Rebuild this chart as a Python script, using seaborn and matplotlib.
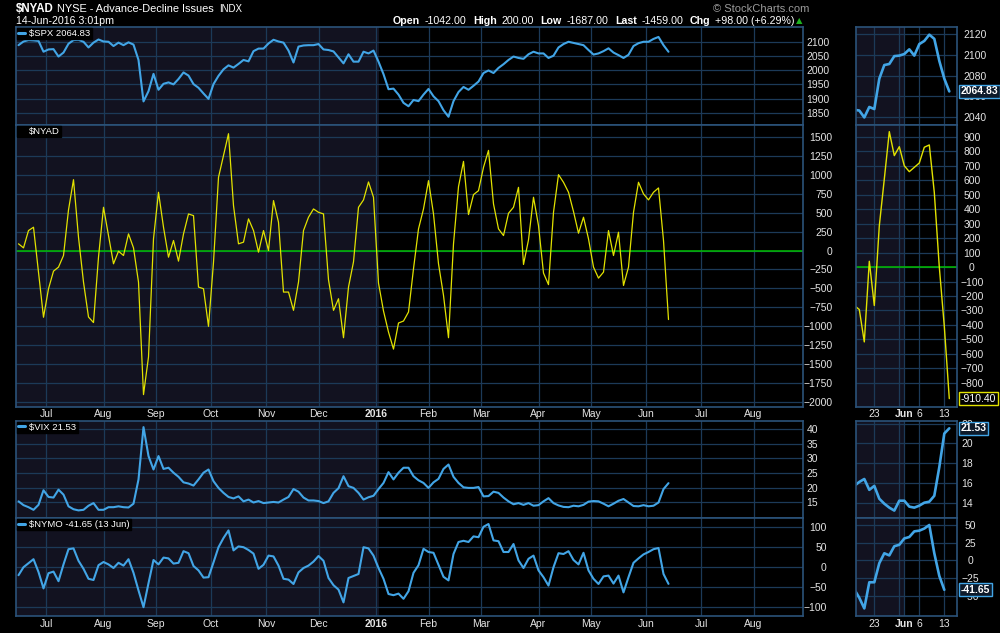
import numpy as np
import pandas as pd
import seaborn as sns
import matplotlib.pyplot as plt
from matplotlib.lines import Line2D

# colours
BLUE = '#42a5e6'
YELLOW = '#e2e200'
GREEN = '#00c000'
NAVY = '#121220'
GRID = '#1c3a58'
FRAME = '#2b5279'
TICK = '#e4e4e4'

sns.set_theme(style='dark', rc={
    'figure.facecolor': 'black',
    'axes.facecolor': 'black',
    'savefig.facecolor': 'black',
    'axes.edgecolor': FRAME,
    'grid.color': GRID,
    'xtick.color': TICK,
    'ytick.color': TICK,
    'text.color': 'white',
})
plt.rcParams['font.family'] = ['Liberation Sans', 'DejaVu Sans']

# weekday calendar for the main panels, one value every 2nd weekday up to 14-Jun-2016
bdays = pd.bdate_range('2015-06-15', '2016-09-02')
main_dates = bdays[1:262:2]

spx = [2088, 2101, 2106, 2105, 2103, 2065, 2073, 2074, 2048, 2062,
       2093, 2106, 2107, 2100, 2080, 2097, 2108, 2101, 2100, 2085,
       2097, 2088, 2098, 2090, 2036, 1890, 1926, 1987, 1931, 1952,
       1957, 1950, 1969, 1992, 1981, 1951, 1938, 1918, 1899, 1951,
       1980, 2003, 2017, 2009, 2022, 2036, 2031, 2067, 2076, 2076,
       2094, 2107, 2101, 2097, 2069, 2027, 2083, 2087, 2088, 2088,
       2092, 2073, 2071, 2066, 2045, 2024, 2056, 2030, 2030, 2065,
       2059, 2069, 2030, 1986, 1933, 1935, 1914, 1885, 1873, 1895,
       1891, 1914, 1934, 1908, 1891, 1859, 1836, 1891, 1923, 1941,
       1931, 1945, 1960, 1990, 1999, 1990, 2008, 2021, 2036, 2048,
       2043, 2040, 2056, 2065, 2059, 2059, 2043, 2051, 2080, 2092,
       2100, 2096, 2092, 2088, 2071, 2055, 2059, 2067, 2077, 2062,
       2053, 2043, 2054, 2085, 2095, 2100, 2100, 2110, 2117, 2088, 2064.83]

nyad = [88, 35, 263, 307, -285, -880, -504, -272, -219, -66,
        535, 934, 175, -417, -877, -950, -88, 570, 197, -175,
        -9, -66, 219, 35, -417, -1900, -1404, 154, 768, 307,
        -88, 132, -140, 219, 482, 460, -482, -504, -1000, -154,
        965, 1250, 1540, 592, 88, 110, 417, 263, -22, 263,
        0, 658, 373, -548, -548, -789, -417, 263, 439, 548,
        504, 482, -386, -789, -636, -1150, -482, -150, 570, 667,
        904, 702, -430, -798, -1075, -1300, -956, -930, -811, -241,
        285, 548, 921, 482, -175, -592, -1150, 88, 842, 1175,
        474, 737, 789, 1097, 1320, 614, 285, 197, 491, 570,
        833, -184, 140, 702, 329, -298, -450, 504, 1000, 899,
        768, 513, 228, 439, 154, -219, -364, -285, 263, -66,
        241, -461, -219, 504, 900, 746, 667, 768, 825, 132, -910.40]

vix = [15.3, 14.0, 13.3, 12.4, 14.1, 19.1, 16.8, 16.6, 19.3, 17.6,
       13.6, 12.6, 12.2, 12.4, 13.8, 14.7, 12.4, 12.4, 13.3, 13.3,
       13.6, 13.3, 13.2, 14.5, 22.8, 40.7, 30.8, 26.2, 30.8, 26.4,
       26.8, 25.1, 23.7, 21.8, 21.4, 20.7, 22.8, 25.1, 26.2, 22.2,
       19.9, 18.2, 16.8, 16.3, 17.0, 15.3, 15.9, 14.9, 15.4, 14.7,
       14.9, 15.1, 14.9, 15.9, 16.8, 19.5, 18.6, 16.6, 15.6, 15.6,
       15.4, 14.7, 15.3, 18.2, 19.8, 23.9, 20.5, 19.9, 18.2, 15.9,
       16.7, 17.2, 19.5, 21.6, 25.3, 22.8, 25.1, 26.8, 26.8, 23.9,
       22.5, 21.6, 19.9, 21.8, 23.0, 26.4, 27.9, 23.7, 21.6, 20.1,
       19.9, 19.9, 20.2, 17.0, 17.1, 18.6, 18.2, 16.6, 15.3, 14.3,
       14.7, 14.1, 14.7, 13.8, 14.0, 15.3, 16.4, 14.7, 13.9, 13.4,
       13.3, 13.8, 13.6, 14.1, 15.2, 15.4, 15.3, 14.5, 13.6, 14.5,
       15.5, 16.1, 14.9, 13.7, 13.6, 14.0, 13.6, 13.8, 14.9, 19.5, 21.53]

nymo = [-20, 0, 10, 20, -12, -53, -15, -11, -35, 7,
        45, 47, 16, -4, -29, -32, 5, 13, 7, -2,
        11, 4, 20, -14, -58, -100, -40, 18, 7, 24,
        22, 9, 11, 40, 35, 3, -8, -26, -25, 12,
        50, 73, 92, 42, 52, 50, 43, 34, -4, 6,
        29, 27, 4, -29, -31, -42, -13, -2, 4, 14,
        28, 16, -27, -45, -56, -88, -27, -22, -17, 50,
        47, 29, -2, -29, -67, -70, -66, -79, -60, -14,
        5, 46, 38, 36, 6, -24, -33, 33, 63, 66,
        63, 77, 75, 101, 108, 67, 65, 38, 38, 58,
        17, -2, 21, 29, -8, -25, -46, 0, 35, 33,
        40, 18, 7, 36, -8, -29, -42, -23, -21, -41,
        -21, -63, -25, 11, 22, 32, 38, 45, 48, -17, -41.65]

# last 20 trading days for the zoom panels on the right
zoom_days = pd.to_datetime(['2016-05-17', '2016-05-18', '2016-05-19', '2016-05-20',
                            '2016-05-23', '2016-05-24', '2016-05-25', '2016-05-26',
                            '2016-05-27', '2016-05-31', '2016-06-01', '2016-06-02',
                            '2016-06-03', '2016-06-06', '2016-06-07', '2016-06-08',
                            '2016-06-09', '2016-06-10', '2016-06-13', '2016-06-14'])
spx_zoom = [2047.3, 2046.6, 2040.0, 2050.0, 2048.0, 2077.0, 2090.0, 2091.0, 2098.5, 2099.0,
            2100.5, 2105.0, 2099.0, 2110.0, 2113.0, 2119.0, 2115.0, 2094.0, 2077.0, 2064.83]
nyad_zoom = [-266, -294, -518, 40, -266, 285, 609, 937, 771, 833,
             701, 660, 690, 720, 829, 845, 516, 0, -410, -910.40]
vix_zoom = [15.7, 16.1, 16.4, 15.3, 15.7, 14.4, 13.9, 13.5, 13.2, 14.2,
            14.2, 13.6, 13.5, 13.7, 14.0, 14.1, 14.7, 17.6, 21.0, 21.53]
nymo_zoom = [-41, -53, -68, -31, -31, -4, 10, 7, 20, 22,
             31, 33, 41, 42, 45, 50, 10, -22, -41.65]

month_starts = pd.date_range('2015-07-01', '2016-08-01', freq='MS')
month_labels = ['2016' if m.month == 1 else m.strftime('%b') for m in month_starts]
zoom_tick_days = pd.to_datetime(['2016-05-23', '2016-05-31', '2016-06-01', '2016-06-06', '2016-06-13'])
zoom_tick_labels = ['23', '', 'Jun', '6', '13']

main_x = bdays.get_indexer(main_dates)
zoom_x = zoom_days.get_indexer(zoom_days)
month_x = bdays.searchsorted(month_starts)
zoom_tick_x = zoom_days.get_indexer(zoom_tick_days)

W, H = 1000, 633
fig = plt.figure(figsize=(10, 6.33), dpi=100)


def rect(x0, x1, top, bottom):
    return [x0 / W, 1 - bottom / H, (x1 - x0) / W, (bottom - top) / H]


def panel(r, xlim, shade_end):
    ax = fig.add_axes(r)
    ax.set_xlim(xlim)
    ax.axvspan(xlim[0], shade_end, color=NAVY, lw=0, zorder=0)
    ax.grid(True, color=GRID, lw=0.9)
    ax.set_axisbelow(True)
    ax.yaxis.tick_right()
    ax.tick_params(length=0, labelsize=7.5, colors=TICK)
    for sp in ax.spines.values():
        sp.set_color(FRAME)
        sp.set_linewidth(1.2)
    return ax


def yticks(ax, ticks, ylim, pad, ha):
    ax.set_ylim(ylim)
    ax.set_yticks(ticks)
    ax.tick_params(axis='y', pad=pad)
    for lab in ax.get_yticklabels():
        lab.set_horizontalalignment(ha)


def xticks(ax, pos, labels, bold, show):
    ax.set_xticks(pos)
    if show:
        ax.set_xticklabels(labels)
        ax.tick_params(axis='x', pad=2)
        for lab in ax.get_xticklabels():
            if lab.get_text() == bold:
                lab.set_fontweight('bold')
    else:
        ax.tick_params(axis='x', labelbottom=False)


def tag(ax, value, text, edge, weight='bold', bg='#0d1a2a'):
    ax.annotate(text, xy=(1, value), xycoords=('axes fraction', 'data'),
                xytext=(3, 0), textcoords='offset points', ha='left', va='center',
                fontsize=7.5, fontweight=weight, color='white', zorder=10,
                annotation_clip=False,
                bbox=dict(boxstyle='square,pad=0.15', fc=bg, ec=edge, lw=1))


def legend_box(ax, color, label):
    ax.legend(handles=[Line2D([], [], color=color, lw=2.2)], labels=[label],
              loc='upper left', bbox_to_anchor=(0, 1), borderaxespad=0.1,
              frameon=True, fancybox=False, facecolor='black', edgecolor='black',
              framealpha=1, fontsize=6.8, handlelength=0.75, handletextpad=0.45,
              borderpad=0.12, labelcolor='white')


main_xlim = (0, 314.8)
shade_main = bdays.searchsorted(pd.Timestamp('2016-01-04'))
zoom_xlim = (0.28, 20.48)
shade_zoom = zoom_days.get_loc(pd.Timestamp('2016-06-01'))

rows = {
    'spx': (27, 125),
    'nyad': (125, 406.5),
    'vix': (420.7, 518),
    'nymo': (518, 616),
}

# ---- main panels
ax1 = panel(rect(16, 803, *rows['spx']), main_xlim, shade_main)
sns.lineplot(x=main_x, y=spx, ax=ax1, color=BLUE, lw=1.5)
yticks(ax1, [1850, 1900, 1950, 2000, 2050, 2100], (1807, 2152), 19.4, 'right')
xticks(ax1, month_x, month_labels, '2016', False)
legend_box(ax1, BLUE, '$SPX 2064.83')

ax2 = panel(rect(16, 803, *rows['nyad']), main_xlim, shade_main)
ax2.axhline(0, color=GREEN, lw=1.1, zorder=1)
sns.lineplot(x=main_x, y=nyad, ax=ax2, color=YELLOW, lw=0.9)
yticks(ax2, np.arange(-2000, 1501, 250), (-2057, 1655), 21.4, 'right')
xticks(ax2, month_x, month_labels, '2016', True)
legend_box(ax2, 'black', '$NYAD')

ax3 = panel(rect(16, 803, *rows['vix']), main_xlim, shade_main)
sns.lineplot(x=main_x, y=vix, ax=ax3, color=BLUE, lw=1.5)
yticks(ax3, [15, 20, 25, 30, 35, 40], (9.6, 42.9), 11, 'right')
xticks(ax3, month_x, month_labels, '2016', False)
legend_box(ax3, BLUE, '$VIX 21.53')

ax4 = panel(rect(16, 803, *rows['nymo']), main_xlim, shade_main)
sns.lineplot(x=main_x, y=nymo, ax=ax4, color=BLUE, lw=1.5)
yticks(ax4, [-100, -50, 0, 50, 100], (-122, 123), 17, 'right')
xticks(ax4, month_x, month_labels, '2016', True)
legend_box(ax4, BLUE, '$NYMO -41.65 (13 Jun)')

# ---- zoom panels
z1 = panel(rect(855.7, 956.7, *rows['spx']), zoom_xlim, shade_zoom)
sns.lineplot(x=zoom_x, y=spx_zoom, ax=z1, color=BLUE, lw=1.9)
yticks(z1, [2040, 2060, 2080, 2100, 2120], (2032.8, 2126.3), 13.4, 'center')
xticks(z1, zoom_tick_x, zoom_tick_labels, 'Jun', False)
tag(z1, spx_zoom[-1], '2064.83', BLUE)

z2 = panel(rect(855.7, 956.7, *rows['nyad']), zoom_xlim, shade_zoom)
z2.axhline(0, color=GREEN, lw=1.1, zorder=1)
sns.lineplot(x=zoom_x, y=nyad_zoom, ax=z2, color=YELLOW, lw=1.0)
yticks(z2, np.arange(-800, 901, 100), (-965, 983), 11, 'center')
xticks(z2, zoom_tick_x, zoom_tick_labels, 'Jun', True)
tag(z2, nyad_zoom[-1], '-910.40', YELLOW, weight='normal', bg='black')

z3 = panel(rect(855.7, 956.7, *rows['vix']), zoom_xlim, shade_zoom)
sns.lineplot(x=zoom_x, y=vix_zoom, ax=z3, color=BLUE, lw=1.9)
yticks(z3, [14, 16, 18, 20, 22], (12.45, 22.3), 7.4, 'center')
xticks(z3, zoom_tick_x, zoom_tick_labels, 'Jun', False)
tag(z3, vix_zoom[-1], '21.53', BLUE)

z4 = panel(rect(855.7, 956.7, *rows['nymo']), zoom_xlim, shade_zoom)
sns.lineplot(x=zoom_x[:len(nymo_zoom)], y=nymo_zoom, ax=z4, color=BLUE, lw=1.9)
yticks(z4, [-50, -25, 0, 25, 50], (-78.7, 59.9), 9.6, 'center')
xticks(z4, zoom_tick_x, zoom_tick_labels, 'Jun', True)
tag(z4, nymo_zoom[-1], '-41.65', BLUE)

for ax in fig.axes:
    ax.set_xlabel('')
    ax.set_ylabel('')

# ---- header
def ftext(x, y, s, **kw):
    fig.text(x / W, 1 - y / H, s, va='center', ha='left', **kw)


ftext(16, 9, '$NYAD', fontsize=8.3, fontweight='bold')
ftext(57, 9, 'NYSE - Advance-Decline Issues', fontsize=7.9)
ftext(219, 9.5, 'INDX', fontsize=7)
ftext(713, 8.5, '\u00a9 StockCharts.com', fontsize=8, color='#9a9a9a')
ftext(16, 21.5, '14-Jun-2016 3:01pm', fontsize=7.7)

head = [(393, 'Open', 'bold'), (425, '-1042.00', 'normal'),
        (473, 'High', 'bold'), (501, '200.00', 'normal'),
        (540, 'Low', 'bold'), (567, '-1687.00', 'normal'),
        (615, 'Last', 'bold'), (642, '-1459.00', 'normal'),
        (690, 'Chg', 'bold'), (715, '+98.00 (+6.29%)', 'normal')]
for x, s, w in head:
    ftext(x, 21.5, s, fontsize=7.7, fontweight=w)
ftext(796, 21, '\u25b2', fontsize=6, color='#1fb21f', family='DejaVu Sans')

fig.savefig('out.png', dpi=100, facecolor='black')
